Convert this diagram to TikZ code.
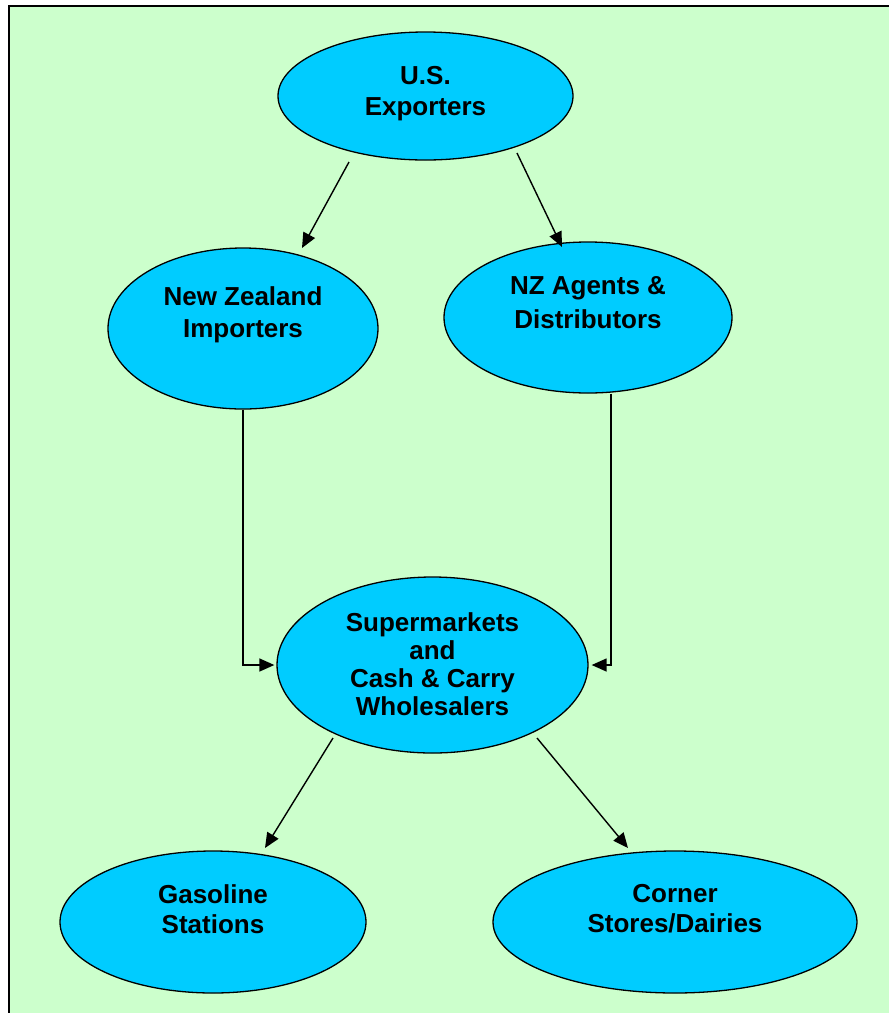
\documentclass[tikz,border=0pt]{standalone}
\usepackage{fontspec}
\setmainfont{Liberation Sans}
\usetikzlibrary{arrows.meta,shapes.geometric,calc}
\definecolor{bggreen}{HTML}{CCFFCC}
\definecolor{nodecyan}{HTML}{00CCFF}
\begin{document}
\begin{tikzpicture}[x=1pt,y=-1pt,
  oval/.style={ellipse,draw=black,line width=1.3pt,fill=nodecyan,inner sep=0pt},
  txt/.style={font=\bfseries\fontsize{26}{31}\selectfont,align=center,inner sep=0pt},
  arr/.style={draw=black,line width=1.4pt,-{Triangle[length=15pt,width=13pt]}}]
\useasboundingbox (0,0) rectangle (889,1013);
\fill[white] (0,0) rectangle (889,1013);
\fill[bggreen] (9,6) rectangle (889,1013);
\draw[line width=2pt,line cap=rect] (9,1013) -- (9,6) -- (889,6);

\node[oval,minimum width=295pt,minimum height=128pt,
  label={[txt,yshift=2pt]center:U.S.\\Exporters}] (us) at (425.5,96) {};
\node[oval,minimum width=270pt,minimum height=161pt,
  label={[txt,font=\bfseries\fontsize{26}{32}\selectfont,yshift=13.5pt]center:New Zealand\\Importers}] (nzi) at (243,328.5) {};
\node[oval,minimum width=288pt,minimum height=151pt,
  label={[txt,font=\bfseries\fontsize{26}{34}\selectfont,yshift=15pt]center:NZ Agents \&\\Distributors}] (nza) at (588,317.5) {};
\node[oval,minimum width=311pt,minimum height=176pt,
  label={[txt,font=\bfseries\fontsize{26}{28}\selectfont,yshift=1pt]center:Supermarkets\\and\\Cash \& Carry\\Wholesalers}] (sup) at (432.5,665) {};
\node[oval,minimum width=306pt,minimum height=142pt,
  label={[txt,font=\bfseries\fontsize{26}{30}\selectfont,yshift=13pt]center:Gasoline\\Stations}] (gas) at (213,922) {};
\node[oval,minimum width=364pt,minimum height=142pt,
  label={[txt,font=\bfseries\fontsize{26}{30}\selectfont,yshift=13.5pt]center:Corner\\Stores/Dairies}] (cor) at (675,922) {};

\draw[arr] ([shift={(-76.5,66)}]us.center) -- ([shift={(59,-80.5)}]nzi.center);
\draw[arr] ([shift={(91.5,57)}]us.center) -- ([shift={(-26,-70.5)}]nza.center);
\draw[arr] (nzi.south) |- ([xshift=-2]sup.west);
\draw[arr] ([xshift=23]nza.south) |- ([xshift=3]sup.east);
\draw[arr] ([shift={(-99.5,73)}]sup.center) -- ([shift={(52,-74)}]gas.center);
\draw[arr] ([shift={(104.5,73)}]sup.center) -- ([shift={(-47,-74)}]cor.center);
\end{tikzpicture}
\end{document}
